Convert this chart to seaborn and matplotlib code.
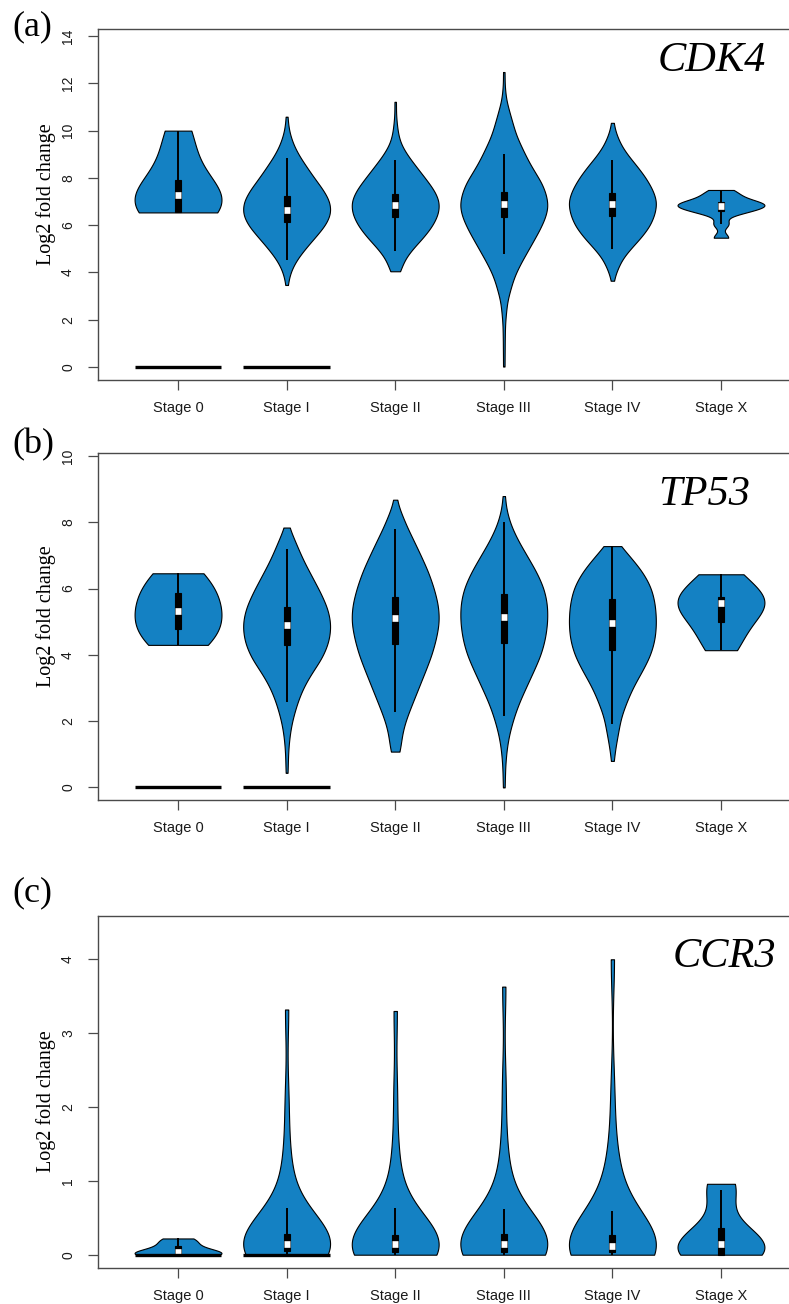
import numpy as np
import pandas as pd
import matplotlib
matplotlib.use("Agg")
import matplotlib.pyplot as plt
import seaborn as sns

# ---------------- data ----------------
STAGES = ["Stage 0", "Stage I", "Stage II", "Stage III", "Stage IV", "Stage X"]
GENES = ["CDK4", "TP53", "CCR3"]
PANEL_LETTERS = ["(a)", "(b)", "(c)"]
Y_LABEL = "Log2 fold change"

# log2 fold-change levels and number of samples at each level (violin bodies)
CDK4_VALUES = {
    "Stage 0": [6.54, 6.55, 6.56, 7.0, 7.28, 7.5, 7.95, 9.2, 10.0],
    "Stage I": [3.47, 4.0, 4.5, 5.0, 5.5, 6.0, 6.5, 7.0, 7.5, 8.0, 8.5, 9.0, 9.5,
                10.0, 10.59],
    "Stage II": [4.05, 4.5, 5.0, 5.5, 6.0, 6.5, 7.0, 7.5, 8.0, 8.5, 9.0, 9.5, 10.0,
                 10.5, 11.22],
    "Stage III": [0.02, 0.7, 1.3, 1.8, 2.3, 2.8, 3.3, 3.8, 4.3, 4.8, 5.3, 5.8, 6.3,
                  6.8, 7.3, 7.8, 8.3, 8.8, 9.3, 9.8, 10.3, 10.8, 11.3, 11.8, 12.48],
    "Stage IV": [3.65, 4.1, 4.5, 5.0, 5.5, 6.0, 6.5, 7.0, 7.5, 8.0, 8.5, 9.0, 9.5,
                 9.9, 10.33],
    "Stage X": [5.47, 6.05, 6.5, 6.6, 6.7, 6.78, 6.85, 6.88, 6.93, 7.0, 7.15, 7.3, 7.49],
}
CDK4_COUNTS = {
    "Stage 0": [1, 1, 1, 1, 1, 1, 1, 1, 1],
    "Stage I": [1, 3, 8, 16, 25, 34, 39, 38, 32, 24, 17, 10, 5, 2, 1],
    "Stage II": [4, 7, 15, 25, 33, 38, 39, 34, 26, 18, 10, 4, 2, 1, 1],
    "Stage III": [1, 1, 1, 1, 2, 3, 6, 9, 14, 20, 26, 32, 37, 40, 38, 34, 27, 21, 16,
                  11, 8, 5, 2, 1, 1],
    "Stage IV": [1, 3, 7, 16, 26, 34, 38, 40, 36, 30, 22, 13, 6, 2, 1],
    "Stage X": [1, 1, 1, 1, 1, 1, 1, 1, 1, 1, 1, 1, 1],
}
TP53_VALUES = {
    "Stage 0": [4.30, 4.45, 4.78, 5.0, 5.32, 5.55, 5.86, 6.2, 6.46],
    "Stage I": [0.44, 0.9, 1.4, 1.9, 2.4, 2.9, 3.4, 3.9, 4.4, 4.9, 5.4, 5.9, 6.4, 6.9,
                7.4, 7.84],
    "Stage II": [1.08, 1.5, 2.0, 2.5, 3.0, 3.5, 4.0, 4.5, 5.0, 5.5, 6.0, 6.5, 7.0, 7.5,
                 8.0, 8.3, 8.68],
    "Stage III": [0.0, 0.5, 1.0, 1.5, 2.0, 2.5, 3.0, 3.5, 4.0, 4.5, 5.0, 5.5, 6.0,
                  6.5, 7.0, 7.5, 8.0, 8.4, 8.79],
    "Stage IV": [0.8, 1.2, 1.6, 2.0, 2.5, 3.0, 3.5, 4.0, 4.5, 5.0, 5.5, 6.0, 6.5, 7.0,
                 7.28],
    "Stage X": [4.14, 4.6, 5.0, 5.35, 5.55, 5.62, 5.73, 6.1, 6.43],
}
TP53_COUNTS = {
    "Stage 0": [1, 1, 1, 1, 1, 1, 1, 1, 1],
    "Stage I": [1, 1, 2, 4, 8, 13, 21, 32, 38, 40, 37, 30, 22, 14, 8, 1],
    "Stage II": [4, 5, 9, 15, 21, 27, 33, 37, 40, 39, 35, 30, 23, 16, 8, 2, 1],
    "Stage III": [1, 1, 2, 4, 8, 13, 20, 27, 34, 38, 40, 40, 37, 30, 21, 12, 5, 1, 1],
    "Stage IV": [1, 2, 4, 6, 12, 18, 27, 35, 39, 40, 39, 36, 28, 15, 1],
    "Stage X": [1, 1, 1, 1, 1, 1, 1, 1, 1],
}
CCR3_VALUES = {
    "Stage 0": [0, 0, 0, 0.01, 0.03, 0.06, 0.12, 0.18, 0.22],
    "Stage I": [0, 0, 0, 0.01, 0.02, 0.03, 0.04, 0.05, 0.054, 0.07, 0.08, 0.09, 0.1,
                0.11, 0.12, 0.13, 0.14, 0.155, 0.17, 0.19, 0.21, 0.23, 0.25, 0.265,
                0.28, 0.36, 0.45, 0.6, 0.8, 1.05, 1.4, 2.1, 3.32],
    "Stage II": [0, 0, 0, 0, 0.01, 0.02, 0.025, 0.028, 0.03, 0.05, 0.07, 0.08, 0.09,
                 0.1, 0.115, 0.13, 0.14, 0.155, 0.17, 0.185, 0.2, 0.215, 0.23, 0.25,
                 0.27, 0.35, 0.45, 0.61, 0.8, 1.05, 1.45, 2.2, 3.30],
    "Stage III": [0, 0, 0, 0, 0.01, 0.02, 0.03, 0.035, 0.04, 0.055, 0.07, 0.085, 0.1,
                  0.11, 0.12, 0.13, 0.14, 0.155, 0.17, 0.19, 0.21, 0.23, 0.245, 0.26,
                  0.275, 0.36, 0.47, 0.62, 0.85, 1.1, 1.5, 2.3, 3.63],
    "Stage IV": [0, 0, 0, 0, 0.01, 0.02, 0.03, 0.035, 0.04, 0.05, 0.06, 0.07, 0.08,
                 0.09, 0.1, 0.11, 0.12, 0.135, 0.15, 0.165, 0.18, 0.2, 0.22, 0.24,
                 0.26, 0.4, 0.58, 0.75, 0.95, 1.15, 1.4, 2.2, 4.0],
    "Stage X": [0, 0, 0, 0.08, 0.15, 0.2, 0.36, 0.87, 0.96],
}
CCR3_COUNTS = {st: [1] * len(v) for st, v in CCR3_VALUES.items()}

# kernel bandwidths (data units) per stage
CDK4_BW = [1.0, 0.35, 0.35, 0.35, 0.35, 0.18]
TP53_BW = [0.6, 0.35, 0.35, 0.35, 0.35, 0.5]
CCR3_BW = [0.06, 0.4, 0.4, 0.42, 0.45, 0.25]

# inner box statistics (lower whisker, Q1, median, Q3, upper whisker) per stage
CDK4_WHISLO = [6.54, 4.53, 4.92, 4.78, 4.98, 6.05]
CDK4_Q1 = [6.55, 6.15, 6.35, 6.36, 6.39, 6.60]
CDK4_MED = [7.28, 6.65, 6.85, 6.90, 6.90, 6.82]
CDK4_Q3 = [7.93, 7.23, 7.31, 7.42, 7.38, 7.00]
CDK4_WHISHI = [9.98, 8.83, 8.75, 9.01, 8.76, 7.48]

TP53_WHISLO = [4.30, 2.58, 2.28, 2.15, 1.91, 4.14]
TP53_Q1 = [4.78, 4.31, 4.34, 4.37, 4.16, 5.00]
TP53_MED = [5.32, 4.91, 5.12, 5.13, 4.95, 5.55]
TP53_Q3 = [5.86, 5.45, 5.73, 5.83, 5.67, 5.73]
TP53_WHISHI = [6.46, 7.18, 7.81, 8.02, 7.28, 6.43]

CCR3_WHISLO = [0.0, 0.0, 0.0, 0.0, 0.0, 0.0]
CCR3_Q1 = [0.0, 0.054, 0.03, 0.04, 0.04, 0.0]
CCR3_MED = [0.036, 0.14, 0.14, 0.14, 0.12, 0.15]
CCR3_Q3 = [0.117, 0.28, 0.27, 0.275, 0.26, 0.357]
CCR3_WHISHI = [0.22, 0.63, 0.63, 0.62, 0.59, 0.87]

ZERO_BAR_STAGES = ["Stage 0", "Stage I"]
ZERO_BAR_VALUE = 0.0

CDK4_YTICKS = [0, 2, 4, 6, 8, 10, 12, 14]
TP53_YTICKS = [0, 2, 4, 6, 8, 10]
CCR3_YTICKS = [0, 1, 2, 3, 4]

GENE_VALUES = {"CDK4": CDK4_VALUES, "TP53": TP53_VALUES, "CCR3": CCR3_VALUES}
GENE_COUNTS = {"CDK4": CDK4_COUNTS, "TP53": TP53_COUNTS, "CCR3": CCR3_COUNTS}
GENE_BW = {"CDK4": CDK4_BW, "TP53": TP53_BW, "CCR3": CCR3_BW}
GENE_BOX = {
    "CDK4": [CDK4_WHISLO, CDK4_Q1, CDK4_MED, CDK4_Q3, CDK4_WHISHI],
    "TP53": [TP53_WHISLO, TP53_Q1, TP53_MED, TP53_Q3, TP53_WHISHI],
    "CCR3": [CCR3_WHISLO, CCR3_Q1, CCR3_MED, CCR3_Q3, CCR3_WHISHI],
}
GENE_YTICKS = {"CDK4": CDK4_YTICKS, "TP53": TP53_YTICKS, "CCR3": CCR3_YTICKS}

# ---------------- style / layout ----------------
FILL = "#1481C3"
SPINE = "#4a4a4a"
TXT = "#1a1a1a"
SERIF = ["Liberation Serif", "DejaVu Serif"]

sns.set_theme(style="ticks")
plt.rcParams["font.family"] = ["Liberation Sans", "DejaVu Sans"]

W, H = 789, 1304
fig = plt.figure(figsize=(W / 100, H / 100), dpi=100)

AX_TB = [(29, 380), (453.3, 800), (916, 1267.7)]
LEFT_PX, RIGHT_PX = 98, 801
YLIMS = [(-0.55, 14.3), (-0.38, 10.08), (-0.176, 4.586)]
LETTER_POS = [(12, 35), (12, 453), (12, 901)]
GENE_POS = [(658, 70.7), (658, 505), (673, 967)]
YLAB_Y = [194, 616, 1101]

for k, gene in enumerate(GENES):
    top, bot = AX_TB[k]
    ax = fig.add_axes([LEFT_PX / W, 1 - bot / H, (RIGHT_PX - LEFT_PX) / W, (bot - top) / H])

    # violin bodies
    for i, st in enumerate(STAGES):
        vals = np.repeat(np.asarray(GENE_VALUES[gene][st], dtype=float),
                         GENE_COUNTS[gene][st])
        factor = GENE_BW[gene][i] / vals.std(ddof=1)
        sns.violinplot(
            x=[st] * len(vals), y=vals, order=STAGES, ax=ax,
            color=FILL, saturation=1, linecolor="black", linewidth=0.8,
            cut=0, density_norm="width", width=0.8, bw_method=factor,
            gridsize=400, inner=None,
        )

    # inner boxes
    box_df = pd.DataFrame({
        "stage": [st for st in STAGES for _ in range(5)],
        "value": [GENE_BOX[gene][j][i] for i in range(len(STAGES)) for j in range(5)],
    })
    sns.boxplot(
        data=box_df, x="stage", y="value", order=STAGES, ax=ax,
        whis=(0, 100), width=0.056, color="black", saturation=1,
        linecolor="black", linewidth=0.8, showfliers=False, showcaps=False,
        medianprops=dict(color="white", linewidth=4.8, solid_capstyle="butt"),
        whiskerprops=dict(color="black", linewidth=1.4),
    )

    for st in ZERO_BAR_STAGES:
        i = STAGES.index(st)
        ax.hlines(ZERO_BAR_VALUE, i - 0.4, i + 0.4, color="black", lw=2.4, zorder=6)

    ax.set_xlim(-0.737, 5.737)
    ax.set_ylim(*YLIMS[k])
    ax.set_xticks(range(len(STAGES)))
    ax.set_xticklabels(STAGES)
    yt = GENE_YTICKS[gene]
    ax.set_yticks(yt)
    ax.set_yticklabels([str(t) for t in yt])
    for lab in ax.get_yticklabels():
        lab.set_rotation(90)
        lab.set_va("center")
    ax.tick_params(axis="both", direction="out", length=7, width=0.9,
                   color=SPINE, labelcolor=TXT)
    ax.tick_params(axis="x", labelsize=10.5, pad=8)
    ax.tick_params(axis="y", labelsize=10, pad=9.5)
    for s in ax.spines.values():
        s.set_color(SPINE)
        s.set_linewidth(1.0)
    ax.set_xlabel("")
    ax.set_ylabel("")

    lx, ly = LETTER_POS[k]
    fig.text(lx / W, 1 - ly / H, PANEL_LETTERS[k], fontsize=26, family=SERIF,
             ha="left", va="baseline", color="black")
    gx, gy = GENE_POS[k]
    fig.text(gx / W, 1 - gy / H, gene, fontsize=30.5, family=SERIF, style="italic",
             ha="left", va="baseline", color="black")
    fig.text(46 / W, 1 - YLAB_Y[k] / H, Y_LABEL, fontsize=14.5, family=SERIF,
             rotation=90, ha="center", va="center", color="black")

fig.savefig("out.png", dpi=100)
